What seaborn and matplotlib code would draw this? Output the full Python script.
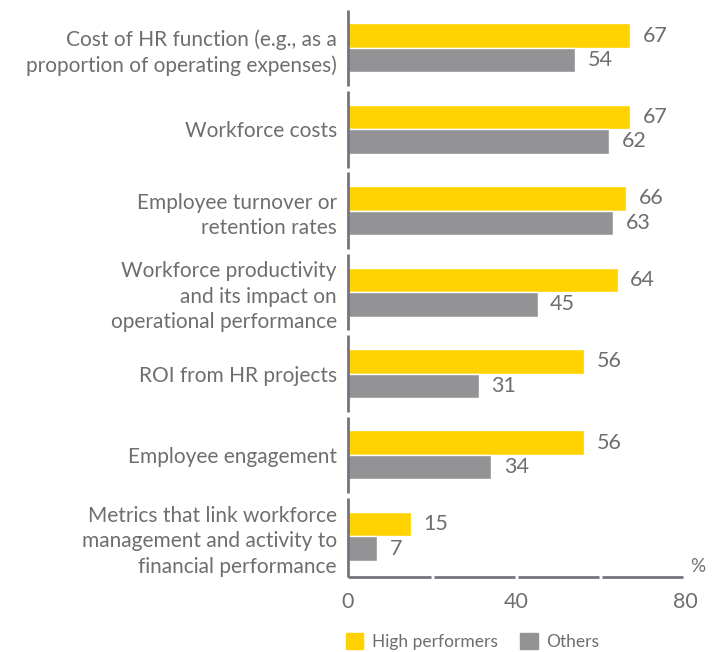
import pandas as pd
import matplotlib.pyplot as plt
import seaborn as sns
from matplotlib.patches import Patch

# Chart data
metrics = [
    'Cost of HR function (e.g., as a\nproportion of operating expenses)',
    'Workforce costs',
    'Employee turnover or\nretention rates',
    'Workforce productivity\nand its impact on\noperational performance',
    'ROI from HR projects',
    'Employee engagement',
    'Metrics that link workforce\nmanagement and activity to\nfinancial performance',
]
high_performers = [67, 67, 66, 64, 56, 56, 15]
others = [54, 62, 63, 45, 31, 34, 7]
groups = ['High performers', 'Others']
colors = ['#FFD200', '#939396']
text_color = '#6d6e71'
axis_color = '#747480'

df = pd.DataFrame({
    'Metric': metrics * 2,
    'Value': high_performers + others,
    'Group': [groups[0]] * len(metrics) + [groups[1]] * len(metrics),
})

sns.set_style('white')
plt.rcParams['font.family'] = ['Lato', 'DejaVu Sans']

fig = plt.figure(figsize=(7.15, 6.52), dpi=100)
ax = fig.add_axes([348 / 715, 0.115, (685 - 348) / 715, 0.989 - 0.115])

sns.barplot(data=df, x='Value', y='Metric', hue='Group', orient='h',
            palette=colors, width=0.6, ax=ax, legend=False, saturation=1)

for container in ax.containers:
    ax.bar_label(container, padding=9, fontsize=15.5, color=text_color)

ax.set_xlim(0, 80)
ax.set_ylim(len(metrics) - 0.5, -0.5)
ax.set_xticks([0, 40, 80])
ax.set_xlabel('')
ax.set_ylabel('')
ax.tick_params(axis='y', length=0, pad=8, labelsize=15, labelcolor=text_color)
ax.tick_params(axis='x', length=0, pad=11, labelsize=15.5, labelcolor=text_color)
for lbl in ax.get_yticklabels():
    lbl.set_linespacing(1.35)
for s in ax.spines.values():
    s.set_visible(False)

# segmented axis lines
gap = 0.03
for i in range(len(metrics)):
    ax.vlines(0, i - 0.5 + gap, i + 0.5 - gap if i < len(metrics) - 1 else i + 0.5,
              color=axis_color, lw=2, clip_on=False)
for x0 in [0, 20, 40, 60]:
    ax.hlines(len(metrics) - 0.5, x0 + (0.4 if x0 else 0), x0 + 19.6,
              color=axis_color, lw=2, clip_on=False)
ax.text(83.0, len(metrics) - 0.52, '%', fontsize=13.5, color=text_color,
        ha='center', va='bottom')

handles = [Patch(color=c, label=g) for c, g in zip(colors, groups)]
fig.legend(handles=handles, loc='center left', bbox_to_anchor=(0.462, 0.016),
           ncol=2, frameon=False, fontsize=12.5, labelcolor=text_color,
           handlelength=1.0, handleheight=1.0, columnspacing=1.3, handletextpad=0.5)

fig.savefig('out.png', dpi=100)
